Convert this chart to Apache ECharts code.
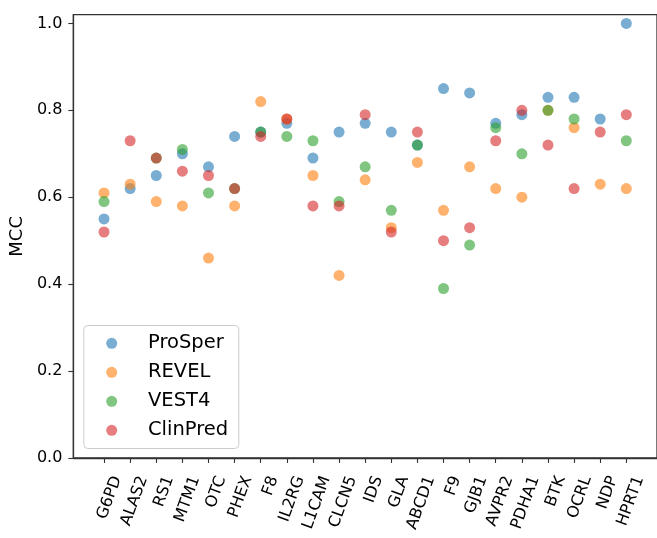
<!DOCTYPE html>
<html>
<head>
<meta charset="utf-8">
<script src="https://cdn.jsdelivr.net/npm/echarts@6/dist/echarts.min.js"></script>
<style>html,body{margin:0;padding:0;background:#fff}#c{width:657px;height:538px}</style>
</head>
<body>
<div id="c"></div>
<script>
const categories = ['G6PD','ALAS2','RS1','MTM1','OTC','PHEX','F8','IL2RG','L1CAM','CLCN5','IDS','GLA','ABCD1','F9','GJB1','AVPR2','PDHA1','BTK','OCRL','NDP','HPRT1'];
const prosper  = [0.55,0.62,0.65,0.70,0.67,0.74,0.75,0.77,0.69,0.75,0.77,0.75,0.72,0.85,0.84,0.77,0.79,0.83,0.83,0.78,1.00];
const revel    = [0.61,0.63,0.59,0.58,0.46,0.58,0.82,0.78,0.65,0.42,0.64,0.53,0.68,0.57,0.67,0.62,0.60,0.80,0.76,0.63,0.62];
const vest4    = [0.59,null,0.69,0.71,0.61,0.62,0.75,0.74,0.73,0.59,0.67,0.57,0.72,0.39,0.49,0.76,0.70,0.80,0.78,null,0.73];
const clinpred = [0.52,0.73,0.69,0.66,0.65,0.62,0.74,0.78,0.58,0.58,0.79,0.52,0.75,0.50,0.53,0.73,0.80,0.72,0.62,0.75,0.79];
const seriesNames = ['ProSper','REVEL','VEST4','ClinPred'];
const seriesValues = [prosper, revel, vest4, clinpred];
const colors = ['#1f77b4','#ff7f0e','#2ca02c','#d62728'];
const yTicks = [0, 0.2, 0.4, 0.6, 0.8, 1.0];

const font = 'DejaVu Sans';
const idx = categories.map((_, i) => i);

const chart = echarts.init(document.getElementById('c'), null, {renderer: 'canvas'});
chart.setOption({
  animation: false,
  textStyle: {fontFamily: font},
  grid: {left: 73, right: -12, top: 14.7, bottom: 80, show: true, borderColor: '#333', borderWidth: 1.3, containLabel: false},
  graphic: [{
    type: 'rect', left: 83.3, top: 325, z: 0,
    shape: {width: 155, height: 123, r: 4},
    style: {fill: 'rgba(255,255,255,0.8)', stroke: '#cccccc', lineWidth: 1}
  }],
  xAxis: {
    type: 'value', min: -1.175, max: 21.175,
    splitLine: {show: false},
    axisLine: {show: true, onZero: false, lineStyle: {color: '#333', width: 1.3}},
    axisTick: {show: true, inside: false, length: 5, customValues: idx, lineStyle: {color: '#333', width: 1.1}},
    axisLabel: {
      customValues: idx, rotate: 70, margin: 14, fontSize: 16, color: '#000', fontFamily: font,
      align: 'right', verticalAlign: 'top', padding: [6, 0, 0, 0],
      formatter: v => categories[Math.round(v)]
    }
  },
  yAxis: {
    type: 'value', min: 0, max: 1.02,
    name: 'MCC', nameLocation: 'middle', nameGap: 39, nameRotate: 90,
    nameTextStyle: {fontSize: 18, color: '#000', fontFamily: font},
    splitLine: {show: false},
    axisLine: {show: true, onZero: false, lineStyle: {color: '#333', width: 1.3}},
    axisTick: {show: true, inside: false, length: 5, customValues: yTicks, lineStyle: {color: '#333', width: 1.1}},
    axisLabel: {customValues: yTicks, margin: 11, fontSize: 16, color: '#000', fontFamily: font,
      formatter: v => v.toFixed(1)}
  },
  legend: [{
    orient: 'vertical', left: 106.2, top: 333.3, z: 5, padding: 0,
    itemWidth: 11, itemHeight: 11, itemGap: 9, icon: 'circle',
    textStyle: {fontSize: 19.5, lineHeight: 20, color: 'rgba(0,0,0,0)', fontFamily: font},
    data: seriesNames
  }, {
    orient: 'vertical', left: 143, top: 333.3, z: 5, padding: 0,
    itemWidth: 0, itemHeight: 11, itemGap: 9, icon: 'none',
    textStyle: {fontSize: 19.5, lineHeight: 20, color: '#000', fontFamily: font},
    data: seriesNames
  }],
  series: seriesNames.map((name, s) => ({
    name, type: 'scatter', symbol: 'circle', symbolSize: 11,
    itemStyle: {color: colors[s], opacity: 0.6},
    emphasis: {disabled: true},
    data: seriesValues[s].map((v, i) => v === null ? null : [i, v]).filter(d => d !== null)
  }))
});
</script>
</body>
</html>
